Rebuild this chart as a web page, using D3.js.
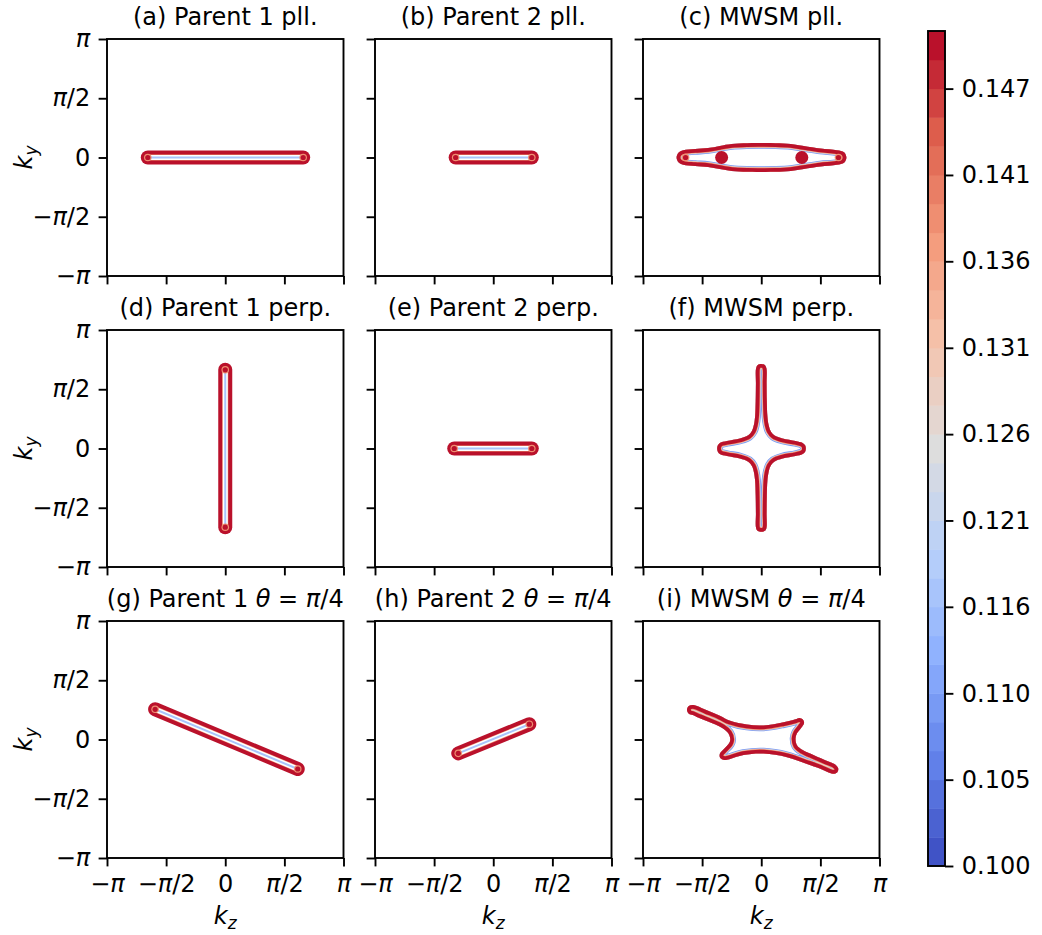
<!DOCTYPE html>
<html><head><meta charset="utf-8">
<script src="https://cdn.jsdelivr.net/npm/d3@7"></script>
<style>body{margin:0;background:#fff}svg{display:block}</style>
</head><body><svg id="c" width="1042" height="935"></svg>
<script>
// ---------------- data ----------------
const titles = ["(a) Parent 1 pll.","(b) Parent 2 pll.","(c) MWSM pll.",
  "(d) Parent 1 perp.","(e) Parent 2 perp.","(f) MWSM perp.",
  "(g) Parent 1 θ = π/4","(h) Parent 2 θ = π/4","(i) MWSM θ = π/4"];
const piTicks = [-1,-0.5,0,0.5,1];               // in units of π
const piTickLabels = ["−π","−π/2","0","π/2","π"];
const levels = [0.10000,0.10172,0.10345,0.10517,0.10690,0.10862,0.11034,0.11207,0.11379,0.11552,
  0.11724,0.11897,0.12069,0.12241,0.12414,0.12586,0.12759,0.12931,0.13103,0.13276,
  0.13448,0.13621,0.13793,0.13966,0.14138,0.14310,0.14483,0.14655,0.14828,0.15000];
const cbTicks = [0.10000,0.10517,0.11034,0.11552,0.12069,0.12586,0.13103,0.13621,0.14138,0.14655];
const cbTickLabels = ["0.100","0.105","0.110","0.116","0.121","0.126","0.131","0.136","0.141","0.147"];
// node-to-node segments (k_z/π, k_y/π) for parent panels
const segA = [[-0.655,0],[0.659,0]];
const segB = [[-0.318,0],[0.326,0]];
const segD = [[0,-0.664],[0,0.664]];
const segE = [[-0.33,0],[0.326,0]];
const segG = [[-0.593,0.255],[0.613,-0.249]];
const segH = [[-0.296,-0.117],[0.305,0.129]];
// outer edges of MWSM contours (k_z/π, k_y/π)
const outlineC = [[-0.716,0],[-0.70,0.04],[-0.66,0.062],[-0.56,0.072],[-0.45,0.08],[-0.35,0.098],[-0.25,0.114],[-0.12,0.121],[0,0.122],
  [0.12,0.121],[0.25,0.114],[0.36,0.097],[0.5,0.076],[0.64,0.062],[0.70,0.045],[0.72,0],[0.70,-0.045],[0.64,-0.062],[0.5,-0.076],
  [0.36,-0.097],[0.25,-0.114],[0.12,-0.121],[0,-0.122],[-0.12,-0.121],[-0.25,-0.114],[-0.35,-0.098],[-0.45,-0.08],[-0.56,-0.072],
  [-0.66,-0.062],[-0.70,-0.04]];
const outlineF = [[0,0.714],[0.03,0.705],[0.044,0.675],[0.045,0.55],[0.047,0.4],[0.052,0.27],[0.062,0.2],[0.078,0.15],[0.11,0.112],
  [0.18,0.085],[0.29,0.064],[0.35,0.047],[0.372,0.025],[0.377,0],[0.372,-0.025],[0.35,-0.047],[0.29,-0.064],[0.18,-0.085],
  [0.11,-0.112],[0.078,-0.15],[0.062,-0.2],[0.052,-0.27],[0.047,-0.4],[0.045,-0.55],[0.044,-0.67],[0.03,-0.695],[0,-0.703],
  [-0.03,-0.695],[-0.044,-0.67],[-0.045,-0.55],[-0.047,-0.4],[-0.052,-0.27],[-0.062,-0.2],[-0.078,-0.15],[-0.11,-0.112],
  [-0.18,-0.085],[-0.29,-0.064],[-0.35,-0.047],[-0.368,-0.025],[-0.373,0],[-0.368,0.025],[-0.35,0.047],[-0.29,0.064],
  [-0.18,0.085],[-0.11,0.112],[-0.078,0.15],[-0.062,0.2],[-0.052,0.27],[-0.047,0.4],[-0.045,0.55],[-0.044,0.675],[-0.03,0.705]];
const outlineI = [[-0.575,0.291],[-0.46,0.246],[-0.35,0.201],[-0.263,0.158],[-0.121,0.126],[0.02,0.119],[0.189,0.146],[0.29,0.17],
  [0.322,0.181],[0.352,0.168],[0.362,0.138],[0.34,0.102],[0.302,0.052],[0.29,0.01],[0.302,-0.048],[0.35,-0.089],[0.45,-0.135],
  [0.557,-0.182],[0.625,-0.211],[0.651,-0.245],[0.641,-0.279],[0.605,-0.289],[0.5,-0.247],[0.387,-0.207],[0.218,-0.15],
  [0.02,-0.119],[-0.15,-0.131],[-0.27,-0.166],[-0.312,-0.173],[-0.348,-0.154],[-0.35,-0.12],[-0.322,-0.086],[-0.272,-0.032],
  [-0.262,0.002],[-0.28,0.054],[-0.33,0.097],[-0.45,0.151],[-0.55,0.193],[-0.58,0.206],[-0.612,0.217],[-0.628,0.25],[-0.613,0.282]];
const smallDotsC = [[-0.64,0],[0.653,0]];
const bigDotsC = [[-0.335,0],[0.343,0]];

// ---------------- style / layout ----------------
const FONT = "DejaVu Sans", FS = 24;
const colLefts = [107, 375, 643], rowTops = [39, 330, 621], PW = 236.5, PH = 237;
const TICK = 8.4, PAD = 8.4, LW = 1.9;
const coolwarm = ["#3b4cc0","#6282ea","#8db0fe","#b8d0f9","#dddddd","#f5c4ad","#f49a7b","#de604d","#b40426"];
const cmap = d3.piecewise(d3.interpolateRgb, coolwarm);
const vmin = levels[0], vmax = levels[levels.length-1];
const colorOf = v => cmap((v - vmin) / (vmax - vmin));
const bandMid = i => (levels[i] + levels[i+1]) / 2;
const cRed = colorOf(bandMid(28)), cPink = colorOf(bandMid(22)), cLight = colorOf(bandMid(15)),
      cBlue = colorOf(bandMid(5)), cLBlue = colorOf(bandMid(9));

const svg = d3.select("#c").attr("font-family", FONT);
svg.append("rect").attr("width",1042).attr("height",935).attr("fill","#fff");

function setMath(sel, str){
  sel.text(null);
  const runs = [];
  for (const ch of str){
    const it = "θπ".includes(ch);
    if (runs.length && runs[runs.length-1].it === it) runs[runs.length-1].t += ch;
    else runs.push({t:ch, it});
  }
  runs.forEach(r => sel.append("tspan").attr("font-style", r.it ? "italic" : null).text(r.t));
}

const segs = {0:segA, 1:segB, 3:segD, 4:segE, 6:segG, 7:segH};
const outlines = {2:outlineC, 5:outlineF, 8:outlineI};

for (let p = 0; p < 9; p++){
  const r = Math.floor(p/3), c = p % 3;
  const x0 = colLefts[c], y0 = rowTops[r];
  const xs = d3.scaleLinear().domain([-1,1]).range([x0, x0+PW]);
  const ys = d3.scaleLinear().domain([-1,1]).range([y0+PH, y0]);
  const g = svg.append("g");

  if (segs[p]){
    const s = segs[p];
    const line = d3.line().x(d=>xs(d[0])).y(d=>ys(d[1]));
    [[14,cRed],[6,cPink],[5,"#ffffff"],[2,cLBlue]].forEach(([w,col]) =>
      g.append("path").attr("d", line(s)).attr("fill","none").attr("stroke",col)
       .attr("stroke-width",w).attr("stroke-linecap","round"));
    g.selectAll("circle.h").data(s).join("circle").attr("class","h")
      .attr("cx",d=>xs(d[0])).attr("cy",d=>ys(d[1])).attr("r",3.8).attr("fill",cPink);
    g.selectAll("circle.d").data(s).join("circle").attr("class","d")
      .attr("cx",d=>xs(d[0])).attr("cy",d=>ys(d[1])).attr("r",2.6).attr("fill",cRed);
  } else {
    const o = outlines[p];
    const line = d3.line().x(d=>xs(d[0])).y(d=>ys(d[1])).curve(d3.curveCatmullRomClosed.alpha(0.5));
    const id = "clip"+p;
    svg.append("clipPath").attr("id",id).append("path").attr("d",line(o));
    const cg = g.append("g").attr("clip-path",`url(#${id})`);
    [[11.6,cBlue],[10,cLight],[8.8,cPink],[7.6,cRed]].forEach(([w,col]) =>
      cg.append("path").attr("d",line(o)).attr("fill","none").attr("stroke",col).attr("stroke-width",w).attr("stroke-linejoin","round"));
    if (p === 2){
      g.selectAll("circle.b").data(bigDotsC).join("circle").attr("class","b")
        .attr("cx",d=>xs(d[0])).attr("cy",d=>ys(d[1])).attr("r",6.5).attr("fill",cRed);
      g.selectAll("circle.h").data(smallDotsC).join("circle").attr("class","h")
        .attr("cx",d=>xs(d[0])).attr("cy",d=>ys(d[1])).attr("r",3.8).attr("fill",cPink);
      g.selectAll("circle.s").data(smallDotsC).join("circle").attr("class","s")
        .attr("cx",d=>xs(d[0])).attr("cy",d=>ys(d[1])).attr("r",2.6).attr("fill",cRed);
    }
  }

  // axes
  const ax = svg.append("g").attr("transform",`translate(0,${y0+PH})`)
    .call(d3.axisBottom(xs).tickValues(piTicks).tickSize(TICK).tickPadding(PAD).tickFormat((d,i)=>piTickLabels[i]));
  const ay = svg.append("g").attr("transform",`translate(${x0},0)`)
    .call(d3.axisLeft(ys).tickValues(piTicks).tickSize(TICK).tickPadding(PAD).tickFormat((d,i)=>piTickLabels[i]));
  [ax, ay].forEach(a => {
    a.attr("font-family",FONT).attr("font-size",FS);
    a.select(".domain").remove();
    a.selectAll(".tick line").attr("stroke","#000").attr("stroke-width",LW);
    a.selectAll(".tick text").attr("fill","#000").each(function(d,i){ setMath(d3.select(this), piTickLabels[i]); });
  });
  if (r < 2) ax.selectAll(".tick text").remove();
  if (c > 0) ay.selectAll(".tick text").remove();

  svg.append("rect").attr("x",x0).attr("y",y0).attr("width",PW).attr("height",PH)
    .attr("fill","none").attr("stroke","#000").attr("stroke-width",LW);

  const t = svg.append("text").attr("x",x0+PW/2).attr("y",y0-14.4).attr("text-anchor","middle")
    .attr("font-size",FS).attr("fill","#000");
  setMath(t, titles[p]);

  if (c === 0){
    const yl = svg.append("text").attr("transform",`translate(32,${y0+PH/2}) rotate(-90)`)
      .attr("text-anchor","middle").attr("font-size",FS).attr("fill","#000");
    yl.append("tspan").attr("font-style","italic").text("k");
    yl.append("tspan").attr("font-style","italic").attr("font-size",17).attr("dy",5).text("y");
  }
  if (r === 2){
    const xl = svg.append("text").attr("x",x0+PW/2).attr("y",924).attr("text-anchor","middle")
      .attr("font-size",FS).attr("fill","#000");
    xl.append("tspan").attr("font-style","italic").text("k");
    xl.append("tspan").attr("font-style","italic").attr("font-size",17).attr("dy",5).text("z");
  }
}

// ---------------- colorbar ----------------
const cbX = 928, cbW = 17;
const cy = d3.scaleLinear().domain([vmin, vmax]).range([866, 31]);
const bands = d3.range(levels.length-1);
svg.append("g").selectAll("rect").data(bands).join("rect")
  .attr("x",cbX).attr("width",cbW)
  .attr("y",i=>cy(levels[i+1])).attr("height",i=>cy(levels[i])-cy(levels[i+1])+0.5)
  .attr("fill",i=>colorOf(bandMid(i)));
svg.append("rect").attr("x",cbX).attr("y",31).attr("width",cbW).attr("height",835)
  .attr("fill","none").attr("stroke","#000").attr("stroke-width",LW);
const cax = svg.append("g").attr("transform",`translate(${cbX+cbW},0)`)
  .call(d3.axisRight(cy).tickValues(cbTicks).tickSize(TICK).tickPadding(PAD).tickFormat((d,i)=>cbTickLabels[i]));
cax.attr("font-family",FONT).attr("font-size",FS);
cax.select(".domain").remove();
cax.selectAll(".tick line").attr("stroke","#000").attr("stroke-width",LW);
cax.selectAll(".tick text").attr("fill","#000");
</script></body></html>
